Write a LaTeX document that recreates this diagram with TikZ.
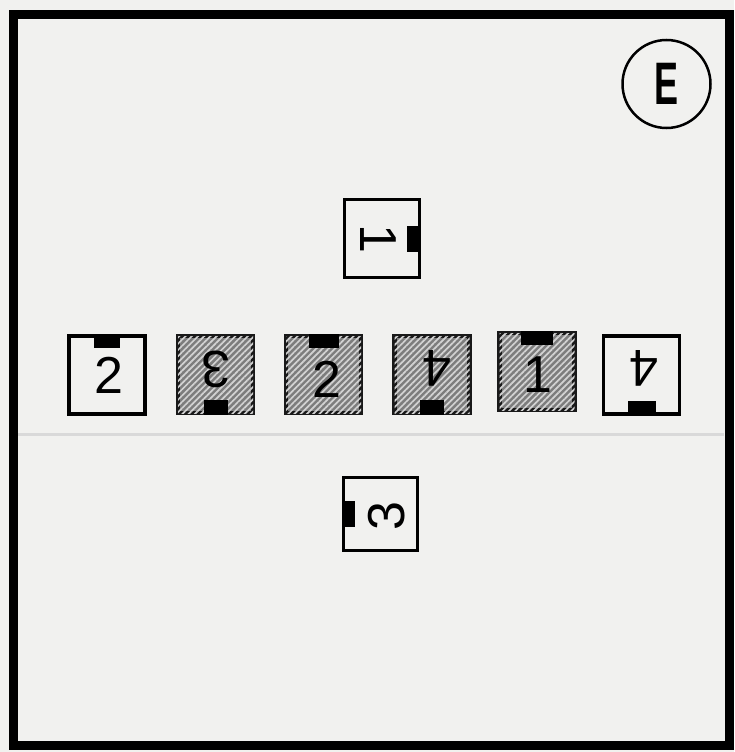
\documentclass[tikz,border=0pt]{standalone}
\usepackage{fontspec}
\setmainfont{Liberation Sans}
\usetikzlibrary{patterns.meta}
\definecolor{bgc}{RGB}{241,241,239}
\definecolor{hatchbg}{RGB}{125,125,125}
\definecolor{hatchln}{RGB}{210,210,210}
\begin{document}
\begin{tikzpicture}[x=1pt,y=-1pt,
  card/.style={draw=black, line width=3.5pt, fill=bgc, minimum width=76pt, minimum height=78pt, inner sep=0pt},
  hcard/.style={draw=black!90, line width=4.5pt, fill=hatchbg, minimum width=75pt, minimum height=77pt, inner sep=0pt,
     postaction={pattern={Lines[angle=45,distance=4.4pt,line width=1.7pt]}, pattern color=hatchln}},
  tabmark/.style={fill=black},
  digit/.style={font=\fontsize{52}{52}\selectfont, inner sep=0pt},
]
\fill[bgc] (0,0) rectangle (734,752);
\useasboundingbox (0,0) rectangle (734,752);
% outer frame
\draw[line width=9pt] (13,15) rectangle (729,745);
% divider
\coordinate (dl) at (18,434);
\coordinate (dr) at (724,434);
\draw[gray!30, line width=3pt] (dl) -- (dr);
% circle E
\node[circle, draw=black, line width=2.5pt, minimum size=88pt, inner sep=0pt] (lab) at (666.5,84)
  {\fontsize{60}{60}\selectfont\scalebox{0.6}[1]{\textbf{E}}};
% top card
\node[card, minimum width=75pt, minimum height=78pt] (top) at (382,238.5) {};
\fill[tabmark] ([yshift=13pt]top.east) rectangle ([xshift=-14pt,yshift=-13pt]top.east);
\node[digit] (t1) at (378,239) {\rotatebox{-90}{1}};
% bottom card
\node[card, minimum width=74pt, minimum height=73pt] (bot) at (380.5,514) {};
\fill[tabmark] ([yshift=13pt]bot.west) rectangle ([xshift=13pt,yshift=-13pt]bot.west);
\node[digit] (t3) at (387,516) {\rotatebox{90}{3}};
% row
\node[card] (b1) at (107,375) {};
\fill[tabmark] ([xshift=-13pt]b1.north) rectangle ([xshift=13pt,yshift=-14pt]b1.north);
\node[digit] (d1) at (109,375) {2};

\node[hcard] (b2) at (215.5,374.5) {};
\fill[tabmark] ([xshift=-12pt]b2.south) rectangle ([xshift=12pt,yshift=15pt]b2.south);
\node[digit] (d2) at (216,369) {\rotatebox{180}{3}};

\node[hcard] (b3) at (323.5,374.5) {};
\fill[tabmark] ([xshift=-15pt]b3.north) rectangle ([xshift=15pt,yshift=-14pt]b3.north);
\node[digit] (d3) at (327,379) {2};

\node[hcard] (b4) at (432,374.5) {};
\fill[tabmark] ([xshift=-12pt]b4.south) rectangle ([xshift=12pt,yshift=15pt]b4.south);
\node[digit] (d4) at (437,368) {\rotatebox{180}{4}};

\node[hcard] (b5) at (537,371.5) {};
\fill[tabmark] ([xshift=-16pt]b5.north) rectangle ([xshift=16pt,yshift=-14pt]b5.north);
\node[digit] (d5) at (538,375) {1};

\node[card] (b6) at (641.5,375) {};
\fill[tabmark] ([xshift=-14pt]b6.south) rectangle ([xshift=14pt,yshift=15pt]b6.south);
\node[digit] (d6) at (644,368) {\rotatebox{180}{4}};
\end{tikzpicture}
\end{document}
